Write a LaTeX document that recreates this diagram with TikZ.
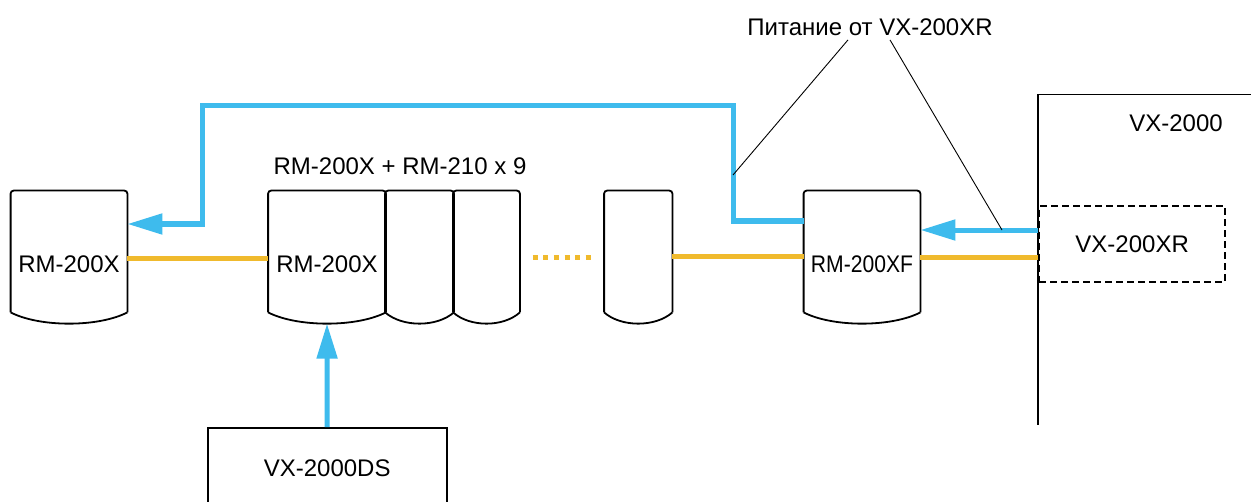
\documentclass[tikz,border=0pt]{standalone}
\usepackage{fontspec}
\setmainfont{Liberation Sans}
\usetikzlibrary{arrows.meta,calc}
\definecolor{cblue}{RGB}{62,187,237}
\definecolor{corange}{RGB}{240,186,45}
\tikzset{
  box/.style={draw=black, line width=0.9pt},
  txt/.style={font=\fontsize{12}{14}\selectfont, inner sep=2pt},
  card/.style={txt, draw=none, inner sep=0pt, minimum height=60.5pt, text height=21.1pt, text depth=0pt},
  bl/.style={draw=cblue, line width=2.5pt},
  blarrow/.style={bl, -{Triangle[length=17.5pt,width=10pt]}},
  orl/.style={draw=corange, line width=2.5pt},
  leader/.style={draw=black, line width=0.45pt},
  dashbox/.style={draw=black, line width=0.9pt, dash pattern=on 3.5pt off 2pt}
}
\newcommand\cardoutline[1]{%
  \draw[box,rounded corners=1.5pt] (#1.south west) -- (#1.north west) -- (#1.north east) -- (#1.south east);
  \draw[box] (#1.south west) .. controls ($(#1.south west)!0.25!(#1.south east)+(0,15)$) and ($(#1.south west)!0.75!(#1.south east)+(0,15)$) .. (#1.south east);
}
\begin{document}
\begin{tikzpicture}[x=0.5pt,y=-0.5pt]
\useasboundingbox (0,0) rectangle (1251,502);
\clip (0,0) rectangle (1251,502);
\fill[white] (0,0) rectangle (1251,502);

% cards
\node[card, minimum width=58pt] (rmL) at (69,251.5) {RM-200X};
\node[card, minimum width=58.5pt] (rmM) at (327,251.5) {RM-200X};
\node[card, minimum width=34pt] (rm1) at (419.5,251.5) {};
\node[card, minimum width=33pt] (rm2) at (486.5,251.5) {};
\node[card, minimum width=33.75pt] (rmN) at (638.25,251.5) {};
\node[card, minimum width=58pt] (rmF) at (862,251.5) {\scalebox{0.88}[1]{RM-200XF}};
\cardoutline{rmL}
\cardoutline{rmM}
\cardoutline{rm1}
\cardoutline{rm2}
\cardoutline{rmN}
\cardoutline{rmF}

\node[txt] (grp) at (400,166) {RM-200X + RM-210 x 9};

% VX-2000DS
\node[box, txt, inner sep=0pt, minimum width=119.5pt, minimum height=40pt] (ds) at (327.2,468) {VX-2000DS};

% VX-2000
\node[draw=none, inner sep=0pt, minimum width=106.35pt, minimum height=165pt] (vx) at (1144.65,260) {};
\draw[box] (vx.north east) -- (vx.north west) -- (vx.south west);
\node[txt] (vxt) at (1176,123) {VX-2000};
\node[dashbox, txt, inner sep=0pt, minimum width=92.85pt, minimum height=38pt] (xr) at (1132.15,244) {VX-200XR\hspace{7pt}};

% power label
\node[txt] (lbl) at (870,27) {Питание от VX-200XR};

% orange lines
\draw[orl] (rmL.east |- 0,258) -- (rmM.west |- 0,258);
\draw[orl, dash pattern=on 2.5pt off 2.8pt] (532.7,257) -- (590.7,257);
\draw[orl] (rmN.east |- 0,256) -- (rmF.west |- 0,256);
\draw[orl] (rmF.east |- 0,257) -- (xr.west |- 0,257);

% blue lines
\draw[blarrow] (xr.west |- 0,230) -- (rmF.east |- 0,230);
\draw[blarrow] (rmF.west |- 0,221) -- (733,221) -- (733,106) -- (202,106) -- (202,224) -- (rmL.east |- 0,224);
\draw[blarrow] (ds.north) -- ([yshift=-5.6pt]rmM.south);

% leaders
\coordinate (p1) at (733,175);
\coordinate (p2) at (1002,230);
\draw[leader] ([xshift=-11pt]lbl.south) -- (p1);
\draw[leader] ([xshift=10pt]lbl.south) -- (p2);
\end{tikzpicture}
\end{document}
